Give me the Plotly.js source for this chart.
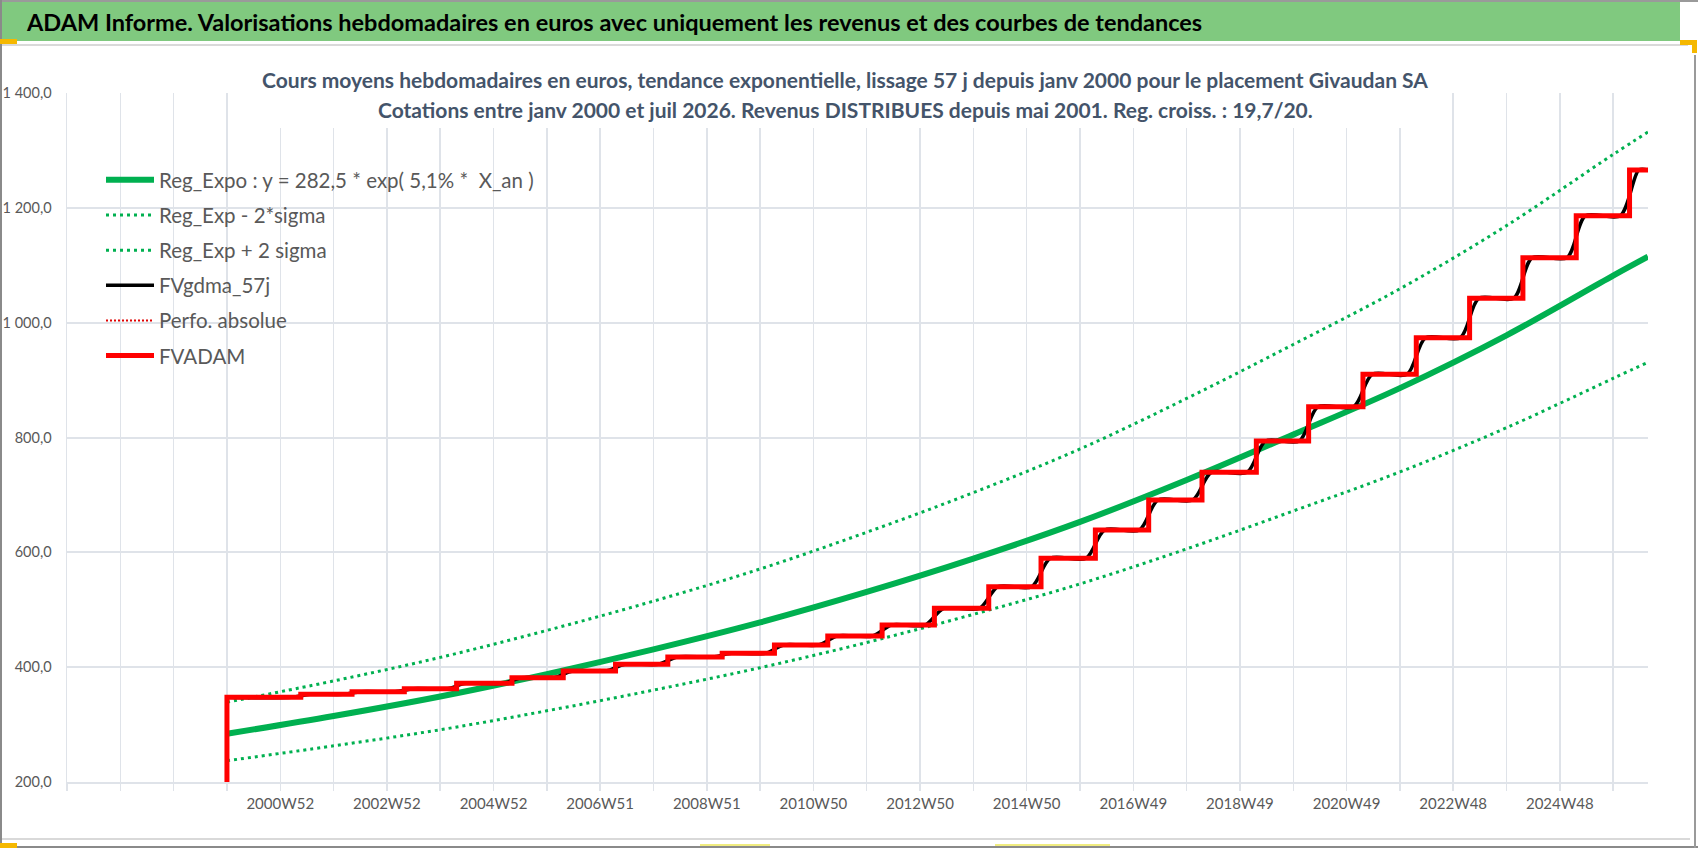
<!DOCTYPE html>
<html>
<head>
<meta charset="utf-8">
<script src="https://cdn.plot.ly/plotly-3.0.1.min.js"></script>
<style>
  html, body { margin: 0; padding: 0; background: #fff; }
  #chart { width: 1698px; height: 848px; }
</style>
</head>
<body>
<div id="chart"></div>
<script>
// Semaines comptées depuis 2000W01 (axe X en semaines)
const regWeeks = [0, 104, 208, 312, 416, 520, 624, 728, 832, 936, 1040, 1144, 1248, 1352, 1386];
const regExpo  = [284, 315, 349, 388, 431, 478, 531, 589, 653, 726, 805, 886, 978, 1082, 1115];
const regMinus = [237, 263, 291, 324, 360, 399, 443, 492, 545, 606, 672, 740, 817, 903, 931];
const regPlus  = [339, 376, 417, 464, 515, 571, 635, 704, 780, 868, 962, 1059, 1169, 1293, 1332];

// Détachements annuels des revenus (semaine du saut) et paliers FVADAM
const stepWeeks = [72, 122, 173, 224, 278, 328, 379, 430, 483, 534, 586, 639, 690,
                   743, 794, 847, 899, 951, 1004, 1055, 1108, 1160, 1212, 1264, 1316, 1368];
const fvLevels  = [347.5, 352.7, 357.3, 362.5, 371.8, 381.7, 393.3, 405.0, 417.7, 424.1,
                   438.6, 454.3, 473.4, 502.5, 540.2, 589.6, 638.9, 691.1, 739.3, 793.9,
                   853.6, 910.0, 973.8, 1042.4, 1113.1, 1186.2, 1265.8];
const fvStart = 200;
const lastWeek = 1386;

// Axe X : graduations toutes les 52 semaines, libellé une sur deux
const tickWeeks  = [-156, -104, -52, 0, 52, 104, 156, 208, 260, 312, 364, 416, 468, 520, 572, 624,
                    676, 728, 780, 832, 884, 936, 988, 1040, 1092, 1144, 1196, 1248, 1300, 1352];
const tickLabels = ['', '', '', '', '2000W52', '', '2002W52', '', '2004W52', '', '2006W51', '', '2008W51', '',
                    '2010W50', '', '2012W50', '', '2014W50', '', '2016W49', '', '2018W49', '', '2020W49', '',
                    '2022W48', '', '2024W48', ''];

// ── Géométrie (pixels -> coordonnées papier) ───────────
const W = 1698, H = 848;
const PL = 67, PR = 1648, PT = 93, PB = 782;
const px = v => (v - PL) / (PR - PL);
const py = v => (PB - v) / (PB - PT);

const FONT = 'Lato, "Open Sans", sans-serif';
const GRID = '#dfe3e9';
const GREEN = '#00b050';

// Courbe en escalier FVADAM
const fvX = [0, 0], fvY = [fvStart, fvLevels[0]];
stepWeeks.forEach((s, i) => {
  fvX.push(s, s);
  fvY.push(fvLevels[i], fvLevels[i + 1]);
});
fvX.push(lastWeek);
fvY.push(fvLevels[fvLevels.length - 1]);

// Moyenne mobile 57 j : transition adoucie autour de chaque saut
const halfW = 9;
const gdX = [0], gdY = [fvLevels[0]];
stepWeeks.forEach((s, i) => {
  gdX.push(s - halfW, s + halfW);
  gdY.push(fvLevels[i], fvLevels[i + 1]);
});
gdX.push(lastWeek);
gdY.push(fvLevels[fvLevels.length - 1]);

const traces = [
  {
    x: regWeeks, y: regExpo, type: 'scatter', mode: 'lines', legendgroup: 'a',
    name: 'Reg_Expo : y = 282,5 * exp( 5,1% *  X_an )',
    line: { color: GREEN, width: 6, shape: 'spline' },
  },
  {
    x: regWeeks, y: regMinus, type: 'scatter', mode: 'lines', legendgroup: 'b',
    name: 'Reg_Exp - 2*sigma',
    line: { color: GREEN, width: 3, dash: '3px,4px', shape: 'spline' },
  },
  {
    x: regWeeks, y: regPlus, type: 'scatter', mode: 'lines', legendgroup: 'c',
    name: 'Reg_Exp + 2 sigma',
    line: { color: GREEN, width: 3, dash: '3px,4px', shape: 'spline' },
  },
  {
    x: gdX, y: gdY, type: 'scatter', mode: 'lines', legendgroup: 'd',
    name: 'FVgdma_57j',
    line: { color: '#000000', width: 3.5, shape: 'spline', smoothing: 0.8 },
  },
  {
    x: fvX, y: fvY, type: 'scatter', mode: 'lines', legendgroup: 'e',
    name: 'Perfo. absolue',
    line: { color: '#e00000', width: 2, dash: '2px,2px' },
  },
  {
    x: fvX, y: fvY, type: 'scatter', mode: 'lines', legendgroup: 'f',
    name: 'FVADAM',
    line: { color: '#ff0000', width: 5 },
  },
];

const hline = (y, x0, x1, color, width) => ({
  type: 'line', xref: 'paper', yref: 'paper', layer: 'above',
  x0: px(x0), x1: px(x1), y0: py(y), y1: py(y), line: { color, width },
});
const vline = (x, y0, y1, color, width) => ({
  type: 'line', xref: 'paper', yref: 'paper', layer: 'above',
  x0: px(x), x1: px(x), y0: py(y0), y1: py(y1), line: { color, width },
});
const rect = (x0, y0, x1, y1, color) => ({
  type: 'rect', xref: 'paper', yref: 'paper', layer: 'above',
  x0: px(x0), x1: px(x1), y0: py(y0), y1: py(y1),
  fillcolor: color, line: { width: 0 },
});

const shapes = [
  rect(271, 88, 1424, 128, '#ffffff'),          // fond du titre
  rect(2, 2, 1680, 41, '#80c97f'),              // bandeau vert
  hline(1, 0, W, '#9a9a9a', 2),
  hline(45, 0, 1688, '#d9d9d9', 2),
  hline(839, 0, 1690, '#d9d9d9', 2),
  hline(847, 0, W, '#8a8a8a', 2),
  vline(1, 0, H, '#8a8a8a', 2),
  vline(1695, 55, H, '#9a9a9a', 2),
  rect(0, 39, 17, 44, '#f5b800'),
  rect(1680, 40, 1697, 45, '#f5b800'),
  rect(1692, 40, 1697, 53, '#f5b800'),
  rect(0, 843, 17, 848, '#f5b800'),
  hline(845, 700, 770, '#f0ec80', 2),
  hline(845, 995, 1110, '#f0ec80', 2),
];

const layout = {
  width: W, height: H, autosize: false,
  paper_bgcolor: '#ffffff', plot_bgcolor: '#ffffff',
  margin: { l: PL, r: W - PR, t: PT, b: H - PB, pad: 0 },
  separators: ', ',
  font: { family: FONT, color: '#595959' },
  showlegend: true,
  title: {
    text: 'Cours moyens hebdomadaires en euros, tendance exponentielle, lissage 57 j depuis janv 2000 pour le placement Givaudan SA',
    font: { family: FONT, size: 21, color: '#44546a', weight: 'bold' },
    xref: 'container', yref: 'container',
    x: 845 / W, xanchor: 'center',
    y: 1 - 81 / H, yanchor: 'middle',
  },
  annotations: [
    {
      text: 'Cotations entre janv 2000 et juil 2026. Revenus DISTRIBUES depuis mai 2001. Reg. croiss. : 19,7/20.',
      xref: 'paper', yref: 'paper', x: px(845), y: py(110), xanchor: 'center', yanchor: 'middle',
      showarrow: false, font: { family: FONT, size: 21, color: '#44546a', weight: 'bold' },
    },
    {
      text: 'ADAM Informe. Valorisations hebdomadaires en euros avec uniquement les revenus et des courbes de tendances',
      xref: 'paper', yref: 'paper', x: px(24), y: py(22), xanchor: 'left', yanchor: 'middle',
      showarrow: false, font: { family: FONT, size: 23.5, color: '#000000', weight: 'bold' },
    },
  ],
  xaxis: {
    type: 'linear', range: [-156, lastWeek], fixedrange: true,
    tickmode: 'array', tickvals: tickWeeks, ticktext: tickLabels,
    tickfont: { family: FONT, size: 15, color: '#595959' },
    showgrid: true, gridcolor: GRID, gridwidth: 1.5,
    ticks: 'outside', ticklen: 7, tickcolor: GRID, tickwidth: 1.5,
    showline: true, linecolor: GRID, linewidth: 2,
    zeroline: false, tickangle: 0,
  },
  yaxis: {
    range: [200, 1400], dtick: 200, tick0: 0, fixedrange: true,
    tickformat: ',.1f',
    tickfont: { family: FONT, size: 14.5, color: '#595959' },
    showgrid: true, gridcolor: GRID, gridwidth: 2,
    ticks: '', ticklabelstandoff: 11,
    showline: true, linecolor: GRID, linewidth: 1.5,
    zeroline: false,
  },
  legend: {
    x: px(101), y: py(160), xanchor: 'left', yanchor: 'top',
    bgcolor: 'rgba(0,0,0,0)', borderwidth: 0,
    traceorder: 'grouped', tracegroupgap: 5.5,
    itemwidth: 48,
    font: { family: FONT, size: 20.5, color: '#595959' },
  },
  shapes,
};

Plotly.newPlot('chart', traces, layout, { displayModeBar: false, staticPlot: true });
</script>
</body>
</html>
